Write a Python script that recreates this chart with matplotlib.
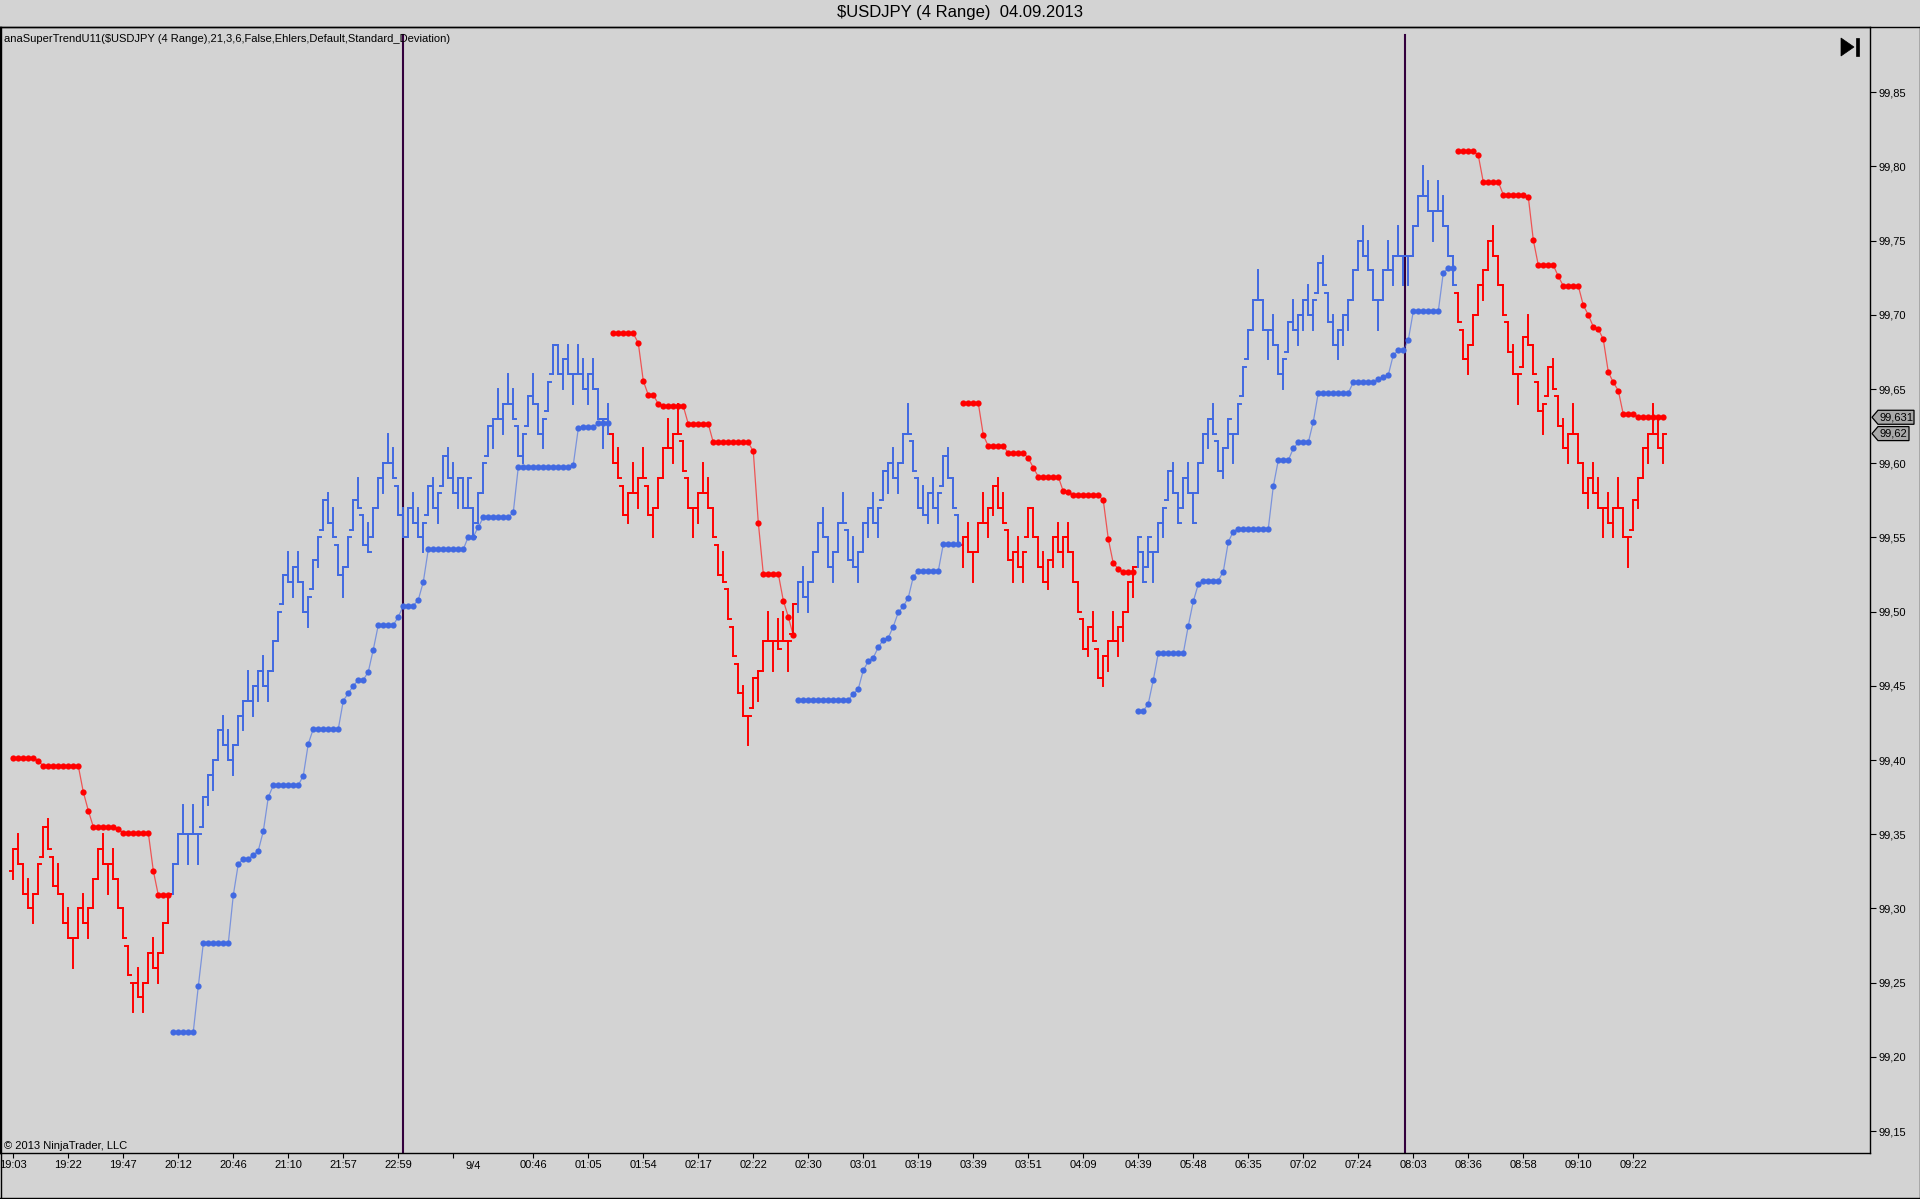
"""USDJPY 4-range bars with the anaSuperTrend stop dots, NinjaTrader 2013 look."""

import matplotlib
matplotlib.use("Agg")
import matplotlib.pyplot as plt
from matplotlib.collections import LineCollection
from matplotlib.patches import Polygon

plt.rcParams["font.family"] = ["Liberation Sans", "DejaVu Sans"]

# ---- data -------------------------------------------------------------------
TICK = 0.005          # USDJPY tick; price = 99 + ticks * TICK
RANGE_TICKS = 4       # "4 Range" bars
FIRST_OPEN_TICKS = 65

# bar closes in ticks above 99.000, ten bars per row
CLOSE_TICKS = [
    68, 66, 62, 60, 62, 66, 71, 68, 63, 62,
    58, 56, 56, 60, 58, 60, 64, 68, 66, 66,
    64, 60, 56, 51, 50, 48, 50, 54, 52, 54,
    58, 62, 66, 70, 70, 70, 70, 70, 75, 78,
    80, 84, 82, 80, 82, 86, 88, 88, 90, 92,
    90, 92, 96, 100, 105, 104, 106, 104, 100, 102,
    107, 110, 115, 112, 110, 105, 106, 110, 115, 114,
    109, 108, 114, 118, 120, 120, 118, 113, 110, 114,
    112, 110, 112, 117, 114, 116, 121, 118, 116, 118,
    114, 118, 110, 116, 120, 125, 126, 126, 128, 128,
    126, 121, 124, 129, 128, 124, 126, 131, 136, 132,
    134, 132, 132, 132, 130, 132, 130, 126, 126, 124,
    120, 118, 113, 116, 116, 118, 118, 113, 114, 118,
    122, 122, 124, 124, 119, 114, 114, 116, 116, 114,
    110, 105, 104, 99, 94, 89, 86, 86, 91, 92,
    96, 96, 96, 95, 96, 96, 101, 104, 102, 104,
    108, 112, 110, 106, 108, 112, 112, 107, 106, 108,
    112, 114, 112, 114, 119, 120, 118, 120, 124, 124,
    119, 114, 113, 116, 114, 116, 121, 118, 114, 109,
    110, 108, 108, 112, 112, 114, 117, 114, 112, 107,
    108, 106, 108, 114, 110, 106, 104, 107, 110, 108,
    110, 108, 104, 100, 95, 98, 96, 91, 94, 96,
    96, 98, 100, 104, 106, 110, 104, 110, 108, 112,
    114, 119, 116, 112, 118, 116, 112, 120, 124, 126,
    124, 119, 122, 126, 124, 128, 133, 138, 142, 142,
    138, 138, 136, 132, 134, 139, 138, 140, 142, 140,
    142, 147, 144, 139, 136, 138, 140, 142, 146, 150,
    148, 146, 142, 142, 146, 146, 148, 148, 148, 148,
    152, 156, 156, 154, 154, 154, 152, 148, 144, 139,
    134, 136, 140, 144, 146, 150, 148, 144, 140, 135,
    132, 132, 137, 136, 132, 127, 128, 133, 130, 125,
    122, 124, 124, 120, 116, 118, 116, 114, 114, 112,
    114, 114, 110, 110, 115, 118, 122, 124, 124, 122,
    124,
]
# u = bar closed at its high, d = bar closed at its low
CLOSE_AT = (
    "uddduuuddd" "dduuduuudu" "dddduduudu" "uuuududuuu" "uudduuuduu"
    "duuuududdu" "uuuddduuud" "dduuuddddu" "dduuduuddu" "duduuuudud"
    "dduudduuud" "ududduddud" "dddududduu" "ududdduudd" "ddddddduuu"
    "ududduuudu" "uudduudddu" "uuduuuduud" "ddduduuddd" "uduuduuddd"
    "uduuddduud" "uddddudduu" "duuuuuduuu" "uuddudduuu" "dduuuuuuud"
    "dudduuduud" "uuddduuuuu" "ddduududuu" "uudduddddd" "duuuuudddd"
    "duuddduudd" "duddduddud" "udduuuuudd" "u"
)

# supertrend stop per trend leg: (stop price, number of bars at that level)
STOP_LEG_1 = [(99.4016, 5), (99.3995, 1), (99.396, 8), (99.3785, 1), (99.366, 1),
              (99.355, 5), (99.3535, 1), (99.351, 6), (99.3255, 1), (99.309, 3)]
STOP_LEG_2 = [(99.217, 5), (99.2475, 1), (99.2765, 6), (99.309, 1), (99.33, 1),
              (99.3335, 2), (99.336, 1), (99.339, 1), (99.352, 1), (99.375, 1),
              (99.383, 6), (99.3895, 1), (99.411, 1), (99.421, 6), (99.44, 1),
              (99.445, 1), (99.45, 1), (99.454, 2), (99.4595, 1), (99.4745, 1),
              (99.491, 4), (99.4965, 1), (99.504, 3), (99.508, 1), (99.52, 1),
              (99.542, 8), (99.5505, 2), (99.557, 1), (99.5635, 6), (99.567, 1),
              (99.5975, 11), (99.599, 1), (99.6235, 1), (99.6245, 3), (99.627, 3)]
STOP_LEG_3 = [(99.6875, 5), (99.681, 1), (99.6555, 1), (99.646, 2), (99.64, 1),
              (99.6385, 5), (99.6265, 5), (99.614, 8), (99.608, 1), (99.56, 1),
              (99.5255, 4), (99.5075, 1), (99.4965, 1), (99.484, 1)]
STOP_LEG_4 = [(99.4405, 11), (99.4445, 1), (99.448, 1), (99.4605, 1), (99.4665, 1),
              (99.469, 1), (99.476, 1), (99.481, 1), (99.4825, 1), (99.49, 1),
              (99.4995, 1), (99.5035, 1), (99.5095, 1), (99.5235, 1), (99.5275, 5),
              (99.5455, 4)]
STOP_LEG_5 = [(99.6405, 4), (99.619, 1), (99.6115, 4), (99.607, 4), (99.6035, 1),
              (99.597, 1), (99.591, 5), (99.581, 1), (99.5805, 1), (99.5785, 6),
              (99.575, 1), (99.549, 1), (99.5325, 1), (99.529, 1), (99.5265, 3)]
STOP_LEG_6 = [(99.433, 2), (99.438, 1), (99.454, 1), (99.472, 6), (99.4905, 1),
              (99.507, 1), (99.5185, 1), (99.521, 4), (99.527, 1), (99.547, 1),
              (99.554, 1), (99.556, 7), (99.5845, 1), (99.602, 3), (99.61, 1),
              (99.614, 3), (99.628, 1), (99.6475, 7), (99.6545, 5), (99.6565, 1),
              (99.658, 1), (99.6595, 1), (99.673, 1), (99.676, 2), (99.683, 1),
              (99.7025, 6), (99.7285, 1), (99.7315, 2)]
STOP_LEG_7 = [(99.8105, 4), (99.8075, 1), (99.7895, 4), (99.781, 5), (99.7795, 1),
              (99.7505, 1), (99.7335, 4), (99.726, 1), (99.7195, 4), (99.7065, 1),
              (99.70, 1), (99.692, 1), (99.6905, 1), (99.6835, 1), (99.6615, 1),
              (99.6545, 1), (99.649, 1), (99.633, 3), (99.631, 6)]
LEGS = [("dn", STOP_LEG_1), ("up", STOP_LEG_2), ("dn", STOP_LEG_3), ("up", STOP_LEG_4),
        ("dn", STOP_LEG_5), ("up", STOP_LEG_6), ("dn", STOP_LEG_7)]

TIME_TICK_BARS = [0, 11, 22, 33, 44, 55, 66, 77, 88, 104, 115, 126, 137, 148, 159,
                  170, 181, 192, 203, 214, 225, 236, 247, 258, 269, 280, 291, 302,
                  313, 324]
TIME_TICK_LABELS = ["19:03", "19:22", "19:47", "20:12", "20:46", "21:10", "21:57",
                    "22:59", "", "00:46", "01:05", "01:54", "02:17", "02:22", "02:30",
                    "03:01", "03:19", "03:39", "03:51", "04:09", "04:39", "05:48",
                    "06:35", "07:02", "07:24", "08:03", "08:36", "08:58", "09:10",
                    "09:22"]
DATE_LABEL, DATE_LABEL_BAR = "9/4", 92
SESSION_BREAK_BARS = [77.9, 278.3]

TITLE = "$USDJPY (4 Range)  04.09.2013"
INDICATOR = ("anaSuperTrendU11($USDJPY (4 Range),21,3,6,False,Ehlers,Default,"
             "Standard_Deviation)")
COPYRIGHT = "\u00a9 2013 NinjaTrader, LLC"

# ---- look & layout (pixels of the 1920x1199 canvas) ---------------------------
W_PX, H_PX = 1920, 1199
AX_L, AX_R, AX_T, AX_B = 0, 1870, 27, 1153
BAR_X0, BAR_W = 13.3, 5.0
PRICE_TOP, PRICE_BOT = 99.894, 99.1352
BG = "#d3d3d3"
UP_C, DN_C = "#4169e1", "#ff0000"
SESSION_C = "#33003d"
FS = 8


def fmt_axis(p):
    return f"{p:.2f}".replace(".", ",")


def fmt_marker(p):
    return f"{p:.3f}".rstrip("0").replace(".", ",")


def main():
    fig = plt.figure(figsize=(W_PX / 100, H_PX / 100), dpi=100, facecolor=BG)
    ax = fig.add_axes([AX_L / W_PX, 1 - AX_B / H_PX,
                       (AX_R - AX_L) / W_PX, (AX_B - AX_T) / H_PX])
    ax.set_facecolor(BG)
    ax.set_xlim(-BAR_X0 / BAR_W, (AX_R - BAR_X0) / BAR_W)
    ax.set_ylim(PRICE_BOT, PRICE_TOP)

    # trend colour per bar
    colours = []
    for direction, runs in LEGS:
        n = sum(c for _, c in runs)
        colours += [UP_C if direction == "up" else DN_C] * n

    # range bars
    segs = {UP_C: [], DN_C: []}
    prev_close = 99 + FIRST_OPEN_TICKS * TICK
    half = 0.56
    for k, (t, at) in enumerate(zip(CLOSE_TICKS, CLOSE_AT)):
        close = 99 + t * TICK
        low = close - RANGE_TICKS * TICK if at == "u" else close
        high = low + RANGE_TICKS * TICK
        open_ = min(max(prev_close, low), high)
        c = colours[k]
        segs[c].append([(k, low), (k, high)])
        segs[c].append([(k - half, open_), (k, open_)])
        segs[c].append([(k, close), (k + half, close)])
        prev_close = close
    for c, s in segs.items():
        ax.add_collection(LineCollection(s, colors=c, linewidths=1.4,
                                         capstyle="projecting", zorder=3))

    # supertrend stop dots, one connected leg per trend
    start = 0
    for direction, runs in LEGS:
        vals = []
        for v, n in runs:
            vals += [v] * n
        xs = list(range(start, start + len(vals)))
        c = UP_C if direction == "up" else DN_C
        ax.plot(xs, vals, color=c, lw=0.9, alpha=0.6, zorder=4)
        ax.plot(xs, vals, "o", color=c, ms=4.5, mew=0, zorder=5)
        start += len(vals)

    for b in SESSION_BREAK_BARS:
        ax.axvline(b, ymin=0, ymax=1 - 8 / (AX_B - AX_T), color=SESSION_C,
                   lw=1.5, zorder=2)

    # axes styling
    for sp in ax.spines.values():
        sp.set_color("black")
        sp.set_linewidth(1.0)
    ax.yaxis.tick_right()
    yt = [round(99.15 + 0.05 * i, 2) for i in range(15)]
    ax.set_yticks(yt)
    ax.set_yticklabels([fmt_axis(v) for v in yt])
    ax.tick_params(axis="y", direction="out", length=4.3, width=0.8, pad=1.5,
                   labelsize=FS, colors="black")
    ax.set_xticks(TIME_TICK_BARS)
    ax.set_xticklabels(TIME_TICK_LABELS)
    ax.tick_params(axis="x", direction="out", length=3.6, width=0.8, pad=1.5,
                   labelsize=FS, colors="black")
    ax.text(DATE_LABEL_BAR, -(1166 - AX_B) / (AX_B - AX_T), DATE_LABEL,
            transform=ax.get_xaxis_transform(), ha="center", va="center",
            fontsize=FS)

    # price markers on the right scale: last stop and last close
    last_stop = LEGS[-1][1][-1][0]
    last_close = 99 + CLOSE_TICKS[-1] * TICK
    px_x = 1 / (AX_R - AX_L)
    px_y = (PRICE_TOP - PRICE_BOT) / (AX_B - AX_T)
    trans = ax.get_yaxis_transform()
    for price, right in ((last_stop, 1914), (last_close, 1909)):
        x0 = 1 + 2 * px_x
        x1 = 1 + 8 * px_x
        x2 = 1 + (right - AX_R) * px_x
        h = 7 * px_y
        poly = Polygon([(x0, price), (x1, price + h), (x2, price + h),
                        (x2, price - h), (x1, price - h)], closed=True,
                       facecolor="#a8a8a8", edgecolor="black", lw=0.9,
                       transform=trans, clip_on=False, zorder=6)
        ax.add_patch(poly)
        ax.text((x1 + x2) / 2, price, fmt_marker(price), transform=trans,
                ha="center", va="center", fontsize=FS, clip_on=False, zorder=7)

    # pixel overlay for frame, title and captions
    ov = fig.add_axes([0, 0, 1, 1], zorder=10)
    ov.set_xlim(0, W_PX)
    ov.set_ylim(H_PX, 0)
    ov.axis("off")
    ov.patch.set_alpha(0)
    frame = dict(color="black", lw=1.0)
    ov.plot([0, W_PX], [AX_T, AX_T], **frame)
    ov.plot([0, W_PX], [H_PX - 1, H_PX - 1], **frame)
    ov.plot([0.5, 0.5], [AX_T, H_PX], **frame)
    ov.plot([W_PX - 0.5, W_PX - 0.5], [AX_T, H_PX], **frame)
    ov.text(W_PX / 2, 13, TITLE, ha="center", va="center", fontsize=12)
    ov.text(4, 39, INDICATOR, ha="left", va="center", fontsize=FS)
    ov.text(4, 1146, COPYRIGHT, ha="left", va="center", fontsize=FS)
    # "go to end" icon
    ov.add_patch(Polygon([(1841, 38), (1854, 47), (1841, 56)], closed=True,
                         facecolor="black", edgecolor="black", lw=0.5))
    ov.add_patch(Polygon([(1856, 38), (1859, 38), (1859, 56), (1856, 56)],
                         closed=True, facecolor="black", edgecolor="black", lw=0.5))

    fig.savefig("out.png", dpi=100, facecolor=BG)


if __name__ == "__main__":
    main()
